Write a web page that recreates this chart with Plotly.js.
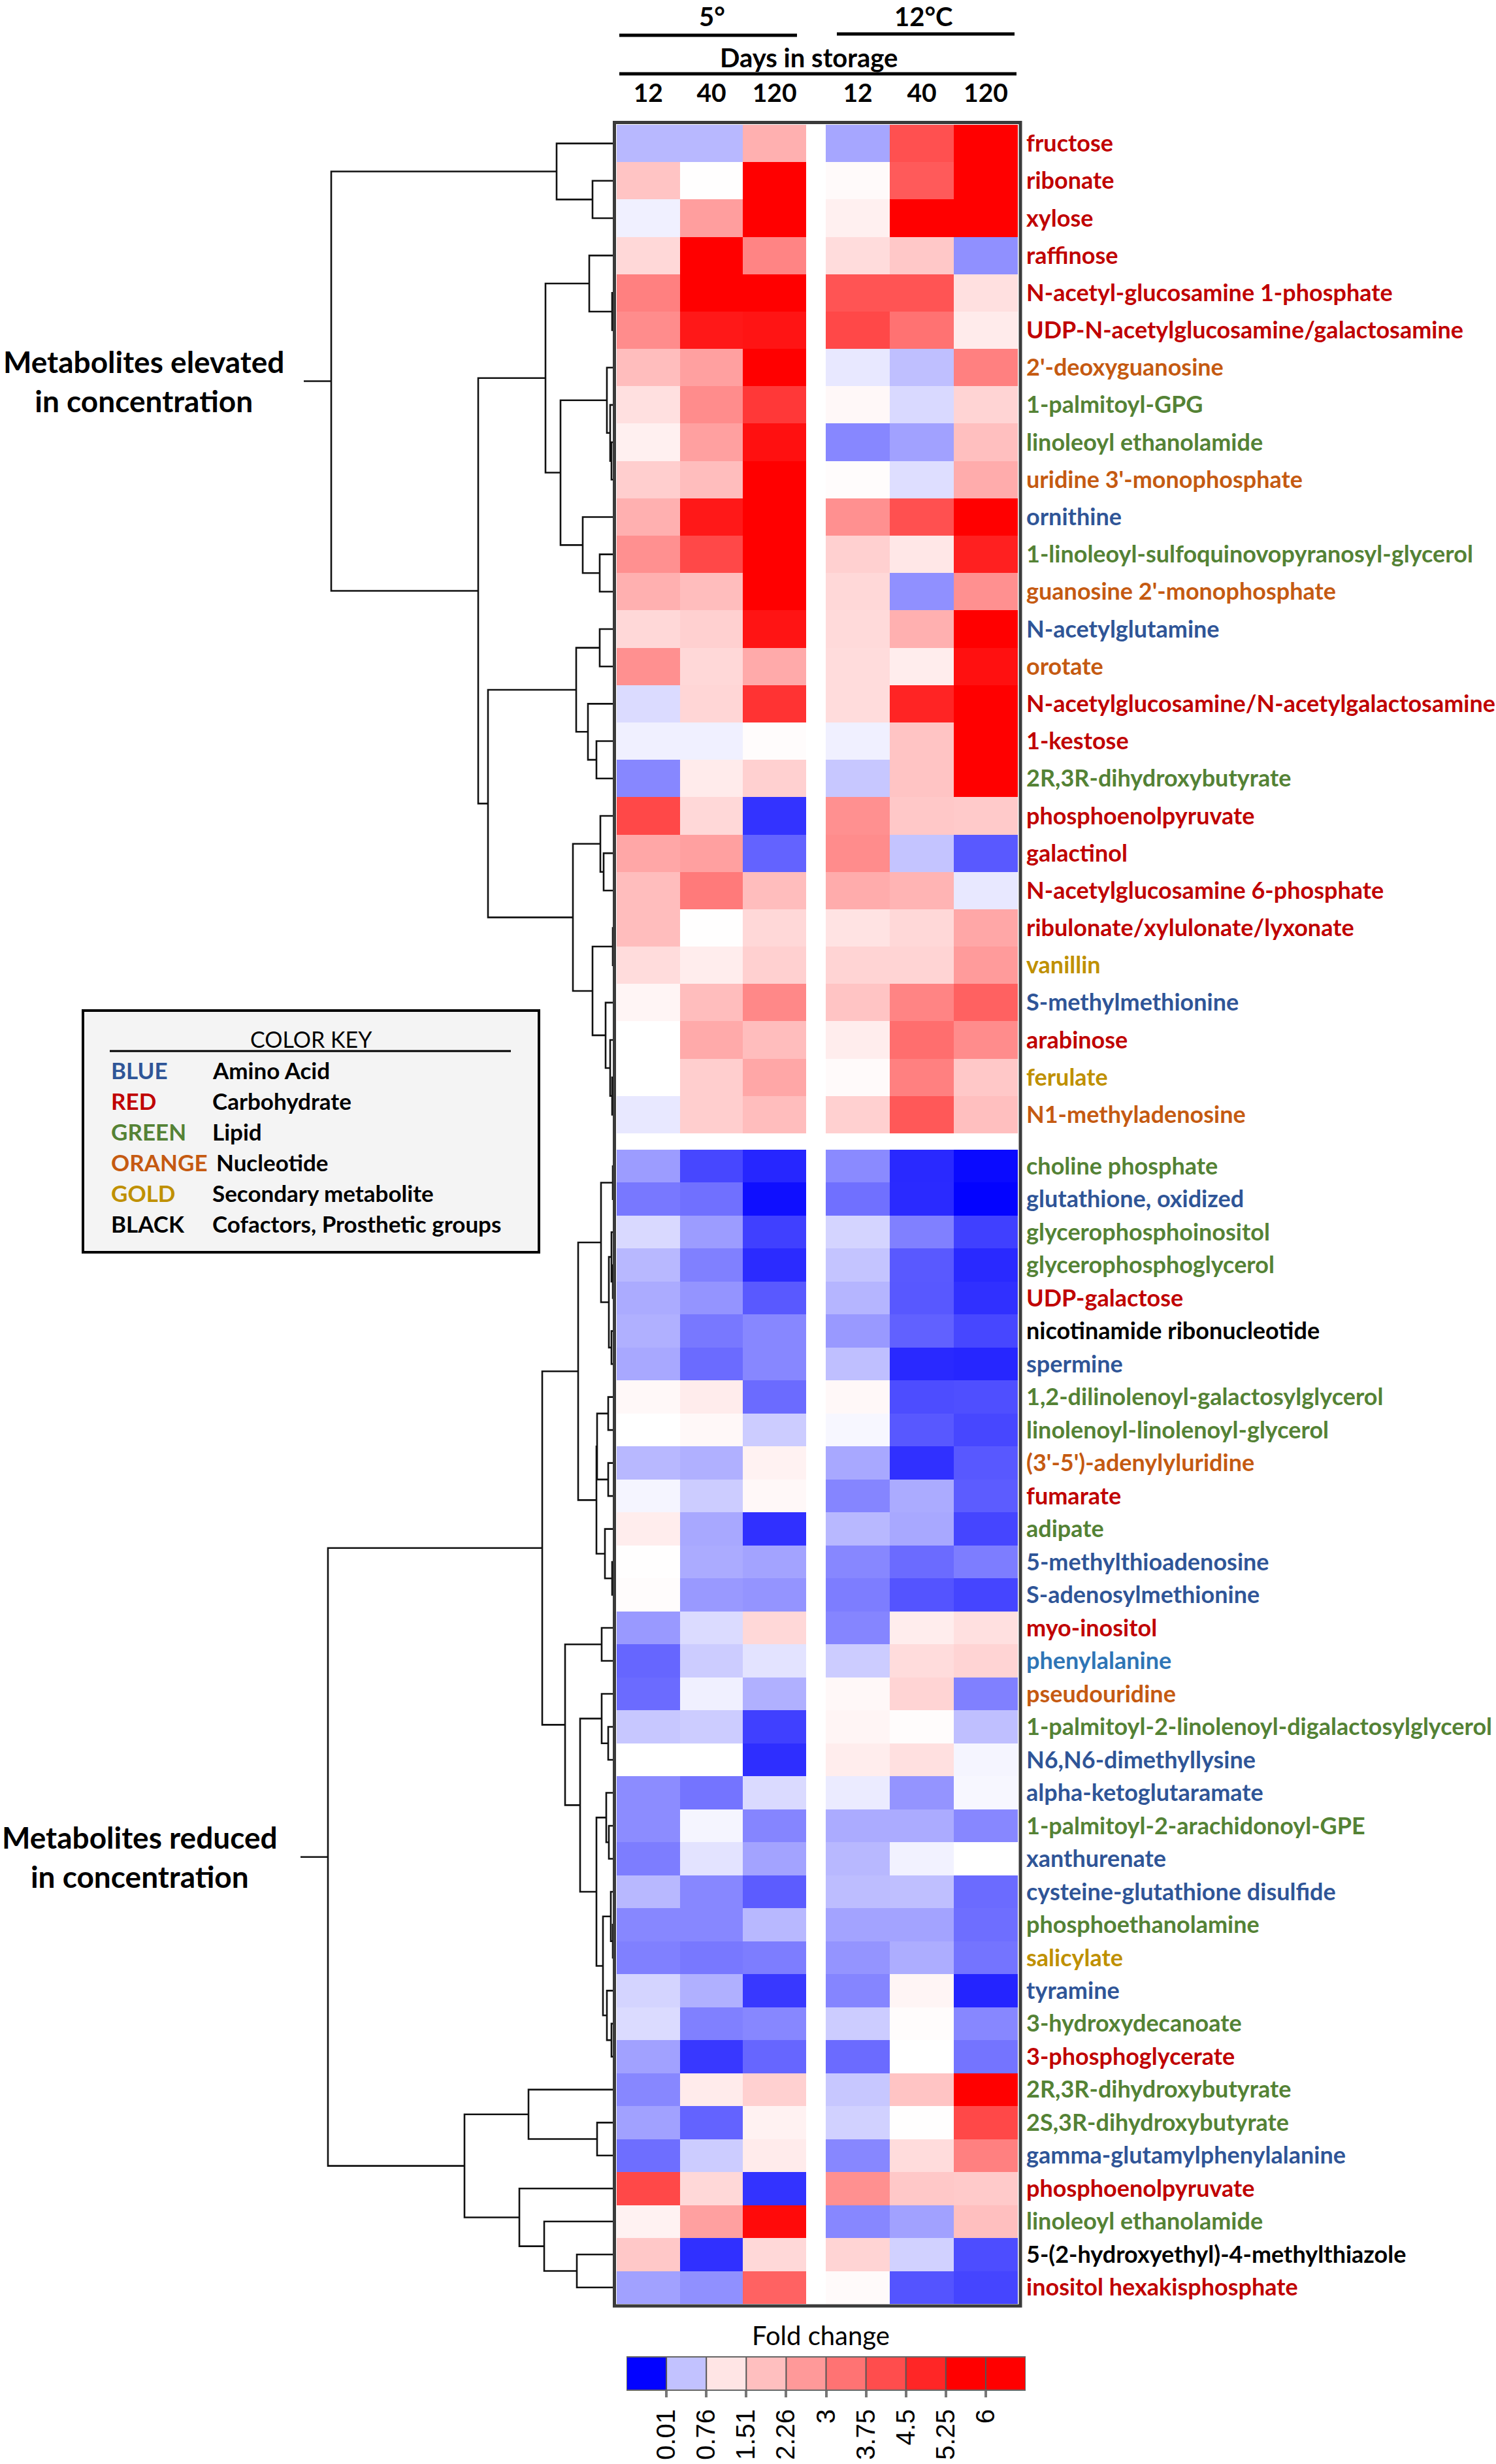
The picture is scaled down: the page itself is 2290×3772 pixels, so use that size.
<!DOCTYPE html>
<html><head><meta charset="utf-8">
<script src="https://cdn.plot.ly/plotly-3.0.1.min.js"></script>
<style>html,body{margin:0;padding:0;background:#fff}#chart{width:2290px;height:3772px}</style>
</head><body><div id="chart"></div>
<script>
const W = 2290, H = 3772;

// ---------------- data ----------------
const dayLabels = ['12', '40', '120'];
const temperatureLabels = ['5°', '12°C'];
const upperTitle = 'Metabolites elevated<br>in concentration';
const lowerTitle = 'Metabolites reduced<br>in concentration';
const colorbarTitle = 'Fold change';
const legendTicks = ['0.01', '0.76', '1.51', '2.26', '3', '3.75', '4.5', '5.25', '6'];

const classKeys = ['A', 'C', 'L', 'N', 'S', 'K'];
const classWords = ['BLUE', 'RED', 'GREEN', 'ORANGE', 'GOLD', 'BLACK'];
const classMeanings = ['Amino Acid', 'Carbohydrate', 'Lipid', 'Nucleotide', 'Secondary metabolite', 'Cofactors, Prosthetic groups'];

const upperNames = ['fructose', 'ribonate', 'xylose', 'raffinose', 'N-acetyl-glucosamine 1-phosphate',
  'UDP-N-acetylglucosamine/galactosamine', "2'-deoxyguanosine", '1-palmitoyl-GPG', 'linoleoyl ethanolamide',
  "uridine 3'-monophosphate", 'ornithine', '1-linoleoyl-sulfoquinovopyranosyl-glycerol', "guanosine 2'-monophosphate",
  'N-acetylglutamine', 'orotate', 'N-acetylglucosamine/N-acetylgalactosamine', '1-kestose', '2R,3R-dihydroxybutyrate',
  'phosphoenolpyruvate', 'galactinol', 'N-acetylglucosamine 6-phosphate', 'ribulonate/xylulonate/lyxonate',
  'vanillin', 'S-methylmethionine', 'arabinose', 'ferulate', 'N1-methyladenosine'];
const upperClass = ['C','C','C','C','C','C','N','L','L','N','A','L','N','A','N','C','C','L','C','C','C','C','S','A','C','S','N'];
// fold change: 5°C 12d, 40d, 120d, 12°C 12d, 40d, 120d
const upperFold = [
  [0.72, 0.72, 2.55, 0.65, 4.43, 6],
  [2.16, 1.02, 6, 1.10, 4.24, 6],
  [0.94, 2.90, 6, 1.30, 6, 6],
  [1.76, 6, 3.41, 1.69, 2.08, 0.565],
  [3.50, 6, 6, 4.35, 4.35, 1.60],
  [3.25, 5.53, 5.60, 4.59, 3.76, 1.40],
  [2.30, 2.86, 6, 0.91, 0.75, 3.50],
  [1.60, 3.25, 4.90, 1.14, 0.85, 1.84],
  [1.30, 2.86, 5.69, 0.53, 0.63, 2.25],
  [1.96, 2.30, 6, 1.06, 0.87, 2.63],
  [2.55, 5.53, 6, 3.18, 4.43, 6],
  [3.18, 4.59, 6, 1.92, 1.47, 5.37],
  [2.55, 2.30, 6, 1.76, 0.565, 3.18],
  [1.76, 1.92, 5.60, 1.73, 2.55, 6],
  [3.18, 1.76, 2.67, 1.69, 1.35, 5.69],
  [0.86, 1.80, 5.00, 1.69, 5.29, 6],
  [0.94, 0.94, 1.06, 0.94, 2.16, 6],
  [0.53, 1.40, 1.92, 0.78, 2.16, 6],
  [4.59, 1.76, 0.20, 3.18, 2.08, 2.04],
  [2.73, 2.86, 0.39, 3.25, 0.77, 0.35],
  [2.30, 3.60, 2.30, 2.63, 2.47, 0.91],
  [2.30, 1.02, 1.76, 1.55, 1.76, 2.73],
  [1.69, 1.35, 1.92, 1.84, 1.84, 2.96],
  [1.20, 2.30, 3.33, 2.16, 3.41, 4.10],
  [1.00, 2.67, 2.30, 1.35, 3.84, 3.25],
  [1.00, 1.96, 2.73, 1.10, 3.50, 2.08],
  [0.91, 1.96, 2.30, 1.92, 4.27, 2.25]
];

const lowerNames = ['choline phosphate', 'glutathione, oxidized', 'glycerophosphoinositol', 'glycerophosphoglycerol',
  'UDP-galactose', 'nicotinamide ribonucleotide', 'spermine', '1,2-dilinolenoyl-galactosylglycerol',
  'linolenoyl-linolenoyl-glycerol', "(3'-5')-adenylyluridine", 'fumarate', 'adipate', '5-methylthioadenosine',
  'S-adenosylmethionine', 'myo-inositol', 'phenylalanine', 'pseudouridine',
  '1-palmitoyl-2-linolenoyl-digalactosylglycerol', 'N6,N6-dimethyllysine', 'alpha-ketoglutaramate',
  '1-palmitoyl-2-arachidonoyl-GPE', 'xanthurenate', 'cysteine-glutathione disulfide', 'phosphoethanolamine',
  'salicylate', 'tyramine', '3-hydroxydecanoate', '3-phosphoglycerate', '2R,3R-dihydroxybutyrate',
  '2S,3R-dihydroxybutyrate', 'gamma-glutamylphenylalanine', 'phosphoenolpyruvate', 'linoleoyl ethanolamide',
  '5-(2-hydroxyethyl)-4-methylthiazole', 'inositol hexakisphosphate'];
const lowerClass = ['L','A','L','L','C','K','A','L','L','N','C','L','A','A','C','A2','N','L','A','A','L','A','A','L','S','A','L','C','L','L','A','C','L','K','C'];
const lowerFold = [
  [0.61, 0.28, 0.15, 0.54, 0.16, 0.04],
  [0.47, 0.44, 0.06, 0.44, 0.165, 0.01],
  [0.85, 0.61, 0.25, 0.83, 0.50, 0.25],
  [0.72, 0.50, 0.17, 0.77, 0.35, 0.16],
  [0.67, 0.58, 0.35, 0.71, 0.345, 0.19],
  [0.69, 0.47, 0.53, 0.60, 0.38, 0.28],
  [0.66, 0.42, 0.53, 0.75, 0.16, 0.15],
  [1.14, 1.37, 0.42, 1.14, 0.30, 0.31],
  [1.00, 1.14, 0.80, 0.97, 0.345, 0.28],
  [0.72, 0.69, 1.26, 0.66, 0.19, 0.345],
  [0.96, 0.80, 1.14, 0.52, 0.67, 0.36],
  [1.35, 0.66, 0.19, 0.72, 0.66, 0.27],
  [1.02, 0.67, 0.64, 0.53, 0.42, 0.49],
  [1.05, 0.60, 0.58, 0.49, 0.33, 0.27],
  [0.60, 0.86, 1.76, 0.52, 1.35, 1.60],
  [0.40, 0.80, 0.89, 0.80, 1.69, 1.84],
  [0.42, 0.94, 0.69, 1.14, 1.84, 0.50],
  [0.78, 0.80, 0.25, 1.20, 1.06, 0.75],
  [1.00, 1.00, 0.18, 1.35, 1.60, 0.96],
  [0.55, 0.455, 0.855, 0.92, 0.58, 0.97],
  [0.55, 0.96, 0.52, 0.67, 0.67, 0.53],
  [0.49, 0.89, 0.64, 0.72, 0.95, 1.00],
  [0.72, 0.53, 0.36, 0.74, 0.75, 0.42],
  [0.53, 0.53, 0.72, 0.64, 0.64, 0.43],
  [0.50, 0.47, 0.49, 0.58, 0.68, 0.455],
  [0.83, 0.69, 0.22, 0.52, 1.20, 0.14],
  [0.86, 0.50, 0.53, 0.80, 1.05, 0.53],
  [0.63, 0.22, 0.40, 0.42, 1.00, 0.455],
  [0.53, 1.40, 1.92, 0.78, 2.16, 6],
  [0.63, 0.39, 1.26, 0.82, 1.02, 4.59],
  [0.43, 0.80, 1.40, 0.53, 1.69, 3.50],
  [4.59, 1.76, 0.20, 3.18, 2.08, 2.04],
  [1.26, 2.86, 5.80, 0.53, 0.63, 2.25],
  [2.08, 0.19, 1.76, 1.84, 0.82, 0.30],
  [0.63, 0.565, 4.08, 1.10, 0.33, 0.27]
];

// dendrograms: [left, right, mergeHeight]; leaves are row indices
const upperTree = [
  [0, [1, 2, 33], 88],
  [
    [[3, [4, 5, 3], 38], [[6, [7, [8, 9, 4], 6], 11], [10, [11, 12, 22], 48], 82], 105],
    [[[13, 14, 22], [15, [16, 17, 27], 40], 58],
     [[18, [19, 20, 16], 21], [[21, 22, 2], [23, [24, [25, 26, 3], 6], 13], 33], 63], 193],
    208
  ],
  433
];
const lowerTree = [
  [
    [[[0, 1, 2], [[2, [3, 4, 2], 4], [5, 6, 4], 8], 20],
     [[[7, 8, 9], [9, 10, 9], 26], [11, [12, 13, 3], 14], 27], 55],
    [[14, 15, 19], [[16, [17, 18, 9], 19], [[19, [20, 21, 8], 12], [[22, [23, 24, 2], 5], [25, [26, 27, 4], 11], 17], 27], 52], 75],
    110
  ],
  [[28, [29, 30, 26], 131], [31, [32, [33, 34, 57], 107], 145], 229],
  438
];

// ---------------- styling ----------------
const classColor = {A: '#2f5597', A2: '#2e75b6', C: '#c00000', L: '#548235', N: '#c55a11', S: '#bf9000', K: '#000000'};
const colorscale = [[0, '#0000ff'], [1 / 6, '#ffffff'], [1, '#ff0000']];
const FONT = 'Lato, "Open Sans", sans-serif';
const px = x => x / W;
const py = y => 1 - y / H;

// layout geometry (pixels)
const G = {
  c5: [944, 1234], c12: [1264, 1558],
  upY: [191, 1735], lowY: [1760, 3527],
  dendro: [460, 940],
  legX: [959, 1570], legY: [3608, 3659]
};
const dendroMax = G.dendro[1] - G.dendro[0];

function cols(rows, a, b) { return rows.map(r => r.slice(a, b)); }
function idx(n) { return Array.from({length: n}, (_, i) => i); }
function ticktext(names, cls) {
  return names.map((n, i) => '<span style="color:' + classColor[cls[i]] + '">' + n + '</span>');
}

function dendroPath(tree) {
  const xs = [], ys = [];
  function walk(node) {
    if (typeof node === 'number') return {y: node, h: 0};
    const L = walk(node[0]), R = walk(node[1]), h = node[2];
    xs.push(L.h, h, h, R.h, null);
    ys.push(L.y, L.y, R.y, R.y, null);
    return {y: (L.y + R.y) / 2, h: h};
  }
  const root = walk(tree);
  xs.push(root.h, root.h + 42, null);
  ys.push(root.y, root.y, null);
  return {xs, ys, root};
}

const upD = dendroPath(upperTree);
const lowD = dendroPath(lowerTree);

const hm = (z, xa, ya) => ({
  type: 'heatmap', z: z, x: dayLabels, y: idx(z.length), xaxis: xa, yaxis: ya,
  colorscale: colorscale, zmin: 0, zmax: 6, showscale: false, hoverinfo: 'skip'
});

const legendValues = legendTicks.map(Number).concat([Number(legendTicks[legendTicks.length - 1])]);

const traces = [
  hm(cols(upperFold, 0, 3), 'x', 'y'),
  hm(cols(upperFold, 3, 6), 'x2', 'y'),
  hm(cols(lowerFold, 0, 3), 'x', 'y2'),
  hm(cols(lowerFold, 3, 6), 'x2', 'y2'),
  {type: 'scatter', mode: 'lines', x: upD.xs, y: upD.ys, xaxis: 'x3', yaxis: 'y',
   line: {color: '#111', width: 2.6}, hoverinfo: 'skip', connectgaps: false},
  {type: 'scatter', mode: 'lines', x: lowD.xs, y: lowD.ys, xaxis: 'x3', yaxis: 'y2',
   line: {color: '#111', width: 2.6}, hoverinfo: 'skip', connectgaps: false},
  {type: 'heatmap', z: [legendValues], x: idx(legendValues.length), y: [0], xaxis: 'x4', yaxis: 'y3',
   colorscale: colorscale, zmin: 0, zmax: 6, showscale: false, hoverinfo: 'skip'}
];

const topAxis = (dom) => ({
  domain: dom, type: 'category', anchor: 'y', side: 'top', range: [-0.5, 2.5],
  showgrid: false, zeroline: false, showline: false, ticks: '', ticklabelstandoff: 26,
  tickfont: {family: FONT, size: 39, weight: 'bold', color: '#000'}, fixedrange: true
});
const rowAxis = (dom, n, names, cls) => ({
  domain: dom, anchor: 'x2', side: 'right', range: [n - 0.5, -0.5],
  tickmode: 'array', tickvals: idx(n), ticktext: ticktext(names, cls),
  showgrid: false, zeroline: false, showline: false, ticks: '', ticklabelstandoff: 12,
  tickfont: {family: FONT, size: 36, weight: 'bold'}, fixedrange: true
});

const shapes = [];
const annotations = [];
const line = (x0, y0, x1, y1, w, c) => shapes.push({type: 'line', xref: 'paper', yref: 'paper',
  x0: px(x0), y0: py(y0), x1: px(x1), y1: py(y1), line: {color: c || '#000', width: w}});

// header
line(948, 54, 1220, 54, 5);
line(1281, 52, 1553, 52, 5);
line(948, 113, 1556, 113, 5);
annotations.push({xref: 'paper', yref: 'paper', x: px(1090), y: py(25), text: temperatureLabels[0], showarrow: false,
  xanchor: 'center', yanchor: 'middle', font: {family: FONT, size: 40, weight: 'bold', color: '#000'}});
annotations.push({xref: 'paper', yref: 'paper', x: px(1413), y: py(25), text: temperatureLabels[1], showarrow: false,
  xanchor: 'center', yanchor: 'middle', font: {family: FONT, size: 40, weight: 'bold', color: '#000'}});
annotations.push({xref: 'paper', yref: 'paper', x: px(1238), y: py(88), text: 'Days in storage', showarrow: false,
  xanchor: 'center', yanchor: 'middle', font: {family: FONT, size: 40, weight: 'bold', color: '#000'}});

// heatmap frame
shapes.push({type: 'rect', xref: 'paper', yref: 'paper', x0: px(940.5), x1: px(1562), y0: py(187.5), y1: py(3530),
  line: {color: '#3a3a3a', width: 5}, layer: 'above'});

// cluster titles
annotations.push({xref: 'paper', yref: 'y', x: px(220), y: upD.root.y, text: upperTitle, showarrow: false,
  xanchor: 'center', yanchor: 'middle', align: 'center', font: {family: FONT, size: 46, weight: 'bold', color: '#000'}});
annotations.push({xref: 'paper', yref: 'y2', x: px(214), y: lowD.root.y, text: lowerTitle, showarrow: false,
  xanchor: 'center', yanchor: 'middle', align: 'center', font: {family: FONT, size: 46, weight: 'bold', color: '#000'}});

// color key
shapes.push({type: 'rect', xref: 'paper', yref: 'paper', x0: px(127), x1: px(825), y0: py(1547), y1: py(1917),
  fillcolor: '#f4f4f4', line: {color: '#000', width: 4}, layer: 'below'});
line(168, 1609, 782, 1609, 3);
annotations.push({xref: 'paper', yref: 'paper', x: px(476), y: py(1590), text: 'COLOR KEY', showarrow: false,
  xanchor: 'center', yanchor: 'middle', font: {family: FONT, size: 34, color: '#000'}});
classKeys.forEach((k, i) => {
  const yy = 1638 + i * 47;
  annotations.push({xref: 'paper', yref: 'paper', x: px(168), y: py(yy), text: classWords[i], showarrow: false,
    xanchor: 'left', yanchor: 'middle', font: {family: FONT, size: 35, weight: 'bold', color: classColor[k]}});
  annotations.push({xref: 'paper', yref: 'paper', x: px(i === 3 ? 329 : 323), y: py(yy), text: classMeanings[i], showarrow: false,
    xanchor: 'left', yanchor: 'middle', font: {family: FONT, size: 35, weight: 'bold', color: '#000'}});
});

// colour legend
annotations.push({xref: 'paper', yref: 'paper', x: px(1256), y: py(3575), text: colorbarTitle, showarrow: false,
  xanchor: 'center', yanchor: 'middle', font: {family: FONT, size: 40, color: '#000'}});
legendValues.forEach((v, i) => {
  if (i > 0) shapes.push({type: 'line', xref: 'x4', yref: 'paper', x0: i - 0.5, x1: i - 0.5,
    y0: py(G.legY[1]), y1: py(G.legY[0]), line: {color: '#555', width: 2}});
});
shapes.push({type: 'rect', xref: 'x4', yref: 'paper', x0: -0.5, x1: legendValues.length - 0.5,
  y0: py(G.legY[1]), y1: py(G.legY[0]), line: {color: '#666', width: 2}});

const layout = {
  width: W, height: H, margin: {l: 0, r: 0, t: 0, b: 0},
  paper_bgcolor: '#fff', plot_bgcolor: 'rgba(0,0,0,0)', showlegend: false,
  xaxis: topAxis([px(G.c5[0]), px(G.c5[1])]),
  xaxis2: topAxis([px(G.c12[0]), px(G.c12[1])]),
  xaxis3: {domain: [px(G.dendro[0]), px(G.dendro[1])], range: [dendroMax, 0], anchor: 'y', visible: false, fixedrange: true},
  xaxis4: {domain: [px(G.legX[0]), px(G.legX[1])], anchor: 'y3', range: [-0.5, legendValues.length - 0.5],
    tickmode: 'array', tickvals: legendTicks.map((t, i) => i + 0.5), ticktext: legendTicks, tickangle: -90,
    ticks: 'outside', ticklen: 10, tickwidth: 4, tickcolor: '#777', showgrid: false, zeroline: false, showline: false,
    ticklabelstandoff: 2,
    tickfont: {family: '"Liberation Sans", Arial, sans-serif', size: 40, color: '#000'}, fixedrange: true},
  yaxis: rowAxis([py(G.upY[1]), py(G.upY[0])], upperNames.length, upperNames, upperClass),
  yaxis2: rowAxis([py(G.lowY[1]), py(G.lowY[0])], lowerNames.length, lowerNames, lowerClass),
  yaxis3: {domain: [py(G.legY[1]), py(G.legY[0])], anchor: 'x4', range: [-0.5, 0.5], visible: false, fixedrange: true},
  shapes: shapes, annotations: annotations
};

Plotly.newPlot('chart', traces, layout, {displayModeBar: false, staticPlot: true});
</script>
</body></html>
